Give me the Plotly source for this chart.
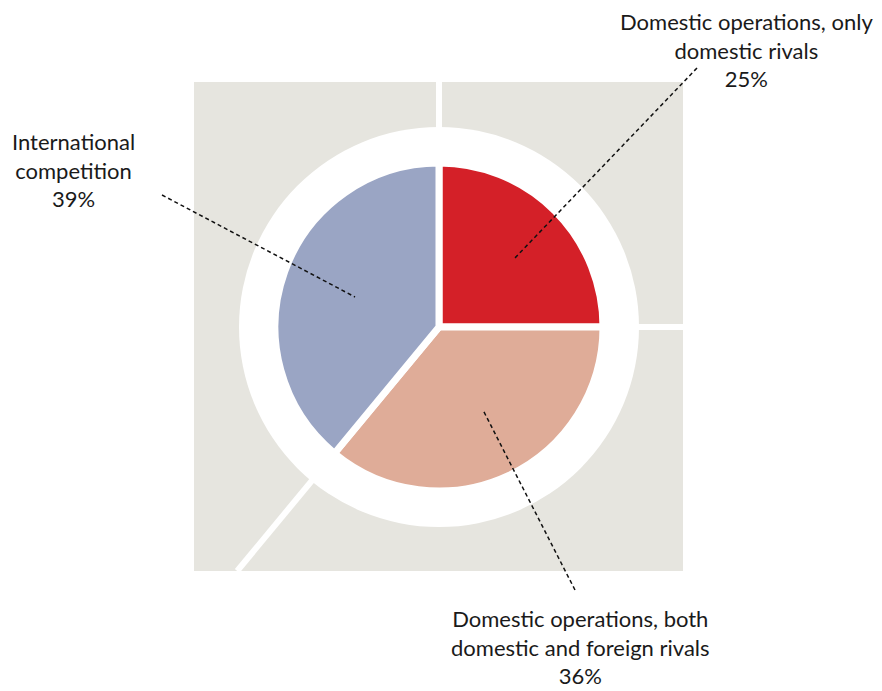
import math
import plotly.graph_objects as go

# ---- data ----
labels = ["Domestic operations, only domestic rivals",
          "Domestic operations, both domestic and foreign rivals",
          "International competition"]
values = [25, 36, 39]
slice_colors = ["#d42028", "#dfac98", "#9aa5c4"]
label_texts = ["Domestic operations, only<br>domestic rivals<br>25%",
               "Domestic operations, both<br>domestic and foreign rivals<br>36%",
               "International<br>competition<br>39%"]

OFF = 8                          # page body margin
W, H = 882 - OFF, 691 - OFF
CX, CY, R = 439, 327, 164        # pie centre / domain radius (page pixels)
RING = 200                       # white ring radius
SQ = (194, 82, 683, 571)         # grey square (x0, y0, x1, y1)


def px(x):
    return (x - OFF) / W


def py(y):
    return 1 - (y - OFF) / H


fig = go.Figure()
fig.add_trace(go.Pie(
    labels=labels, values=values, sort=False, direction="clockwise", rotation=0,
    marker=dict(colors=slice_colors, line=dict(color="white", width=7)),
    textinfo="none", hoverinfo="label+percent", showlegend=False,
    domain=dict(x=[px(CX - R), px(CX + R)], y=[py(CY + R), py(CY - R)]),
))

shapes = []
# grey square
shapes.append(dict(type="rect", xref="paper", yref="paper", layer="below",
                   x0=px(SQ[0]), x1=px(SQ[2]), y0=py(SQ[3]), y1=py(SQ[1]),
                   fillcolor="#e6e5df", line=dict(width=0)))
# white boundary lines extended from slice edges
total = sum(values)
cum = 0
for v in values:
    ang = cum / total * 2 * math.pi
    dx, dy = math.sin(ang), -math.cos(ang)
    ts = []
    if dx > 1e-9:
        ts.append((SQ[2] - CX) / dx)
    if dx < -1e-9:
        ts.append((SQ[0] - CX) / dx)
    if dy > 1e-9:
        ts.append((SQ[3] - CY) / dy)
    if dy < -1e-9:
        ts.append((SQ[1] - CY) / dy)
    t = min(ts)
    shapes.append(dict(type="line", xref="paper", yref="paper", layer="below",
                       x0=px(CX), y0=py(CY), x1=px(CX + dx * t), y1=py(CY + dy * t),
                       line=dict(color="white", width=6)))
    cum += v
# white ring
shapes.append(dict(type="circle", xref="paper", yref="paper", layer="below",
                   x0=px(CX - RING), x1=px(CX + RING), y0=py(CY + RING), y1=py(CY - RING),
                   fillcolor="white", line=dict(width=0)))

# leader lines (outer end, inner end) and label positions
leaders = [((697, 68), (513, 260)),
           ((575, 590), (483, 410)),
           ((162, 195), (355, 297))]
label_pos = [(746, 50), (580, 647), (73, 170)]

for (a, b) in leaders:
    shapes.append(dict(type="line", xref="paper", yref="paper",
                       x0=px(a[0]), y0=py(a[1]), x1=px(b[0]), y1=py(b[1]),
                       line=dict(color="#111111", width=1.5, dash="4px,3px")))

annotations = []
for txt, (x, y) in zip(label_texts, label_pos):
    annotations.append(dict(text=txt, x=px(x), y=py(y), xref="paper", yref="paper",
                            showarrow=False, xanchor="center", yanchor="middle",
                            align="center",
                            font=dict(family="Lato, Open Sans, sans-serif", size=22,
                                      color="#1a1a1a")))

fig.update_layout(
    width=W, height=H, margin=dict(l=0, r=0, t=0, b=0),
    paper_bgcolor="white", plot_bgcolor="white",
    shapes=shapes, annotations=annotations, showlegend=False,
)

fig.write_html("out.html")
